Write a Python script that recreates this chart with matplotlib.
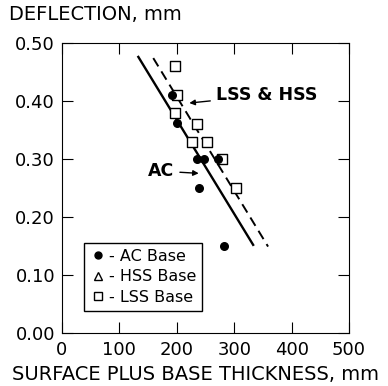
import matplotlib.pyplot as plt
from matplotlib.lines import Line2D

# data
ac_x = [191, 200, 235, 247, 272, 238, 283]
ac_y = [0.41, 0.362, 0.30, 0.30, 0.30, 0.25, 0.15]
hss_x = []
hss_y = []
lss_x = [196, 201, 196, 236, 226, 252, 278, 303]
lss_y = [0.46, 0.41, 0.38, 0.36, 0.33, 0.33, 0.30, 0.25]

ac_line_x = [133, 333]
ac_line_y = [0.476, 0.152]
lss_line_x = [159, 359]
lss_line_y = [0.474, 0.149]

x_ticks = [0, 100, 200, 300, 400, 500]
y_ticks = [0.0, 0.1, 0.2, 0.3, 0.4, 0.5]

plt.rcParams['font.family'] = ['DejaVu Sans']
fig = plt.figure(figsize=(3.88, 3.86), dpi=100)
ax = fig.add_axes([62 / 388, 1 - 333 / 386, 287 / 388, 290 / 386])

ax.plot(ac_line_x, ac_line_y, color='black', lw=1.7)
ax.plot(lss_line_x, lss_line_y, color='black', lw=1.4, ls=(0, (5, 3)))
ax.scatter(lss_x, lss_y, marker='s', s=48, facecolor='white', edgecolor='black', lw=1.0, zorder=3)
ax.scatter(hss_x, hss_y, marker='^', s=48, facecolor='white', edgecolor='black', lw=1.0, zorder=3)
ax.scatter(ac_x, ac_y, marker='o', s=30, color='black', zorder=4)

ax.annotate('LSS & HSS', xy=(217, 0.396), xytext=(268, 0.41), fontsize=12.5, fontweight='bold',
            va='center', arrowprops=dict(arrowstyle='-|>', color='black', lw=1, mutation_scale=8))
ax.annotate('AC', xy=(243, 0.275), xytext=(150, 0.279), fontsize=12.5, fontweight='bold',
            va='center', arrowprops=dict(arrowstyle='-|>', color='black', lw=1, mutation_scale=8,
                                         shrinkA=2))

ax.set_xlim(0, 500)
ax.set_ylim(0, 0.5)
ax.set_xticks(x_ticks)
ax.set_yticks(y_ticks)
ax.set_yticklabels([f'{v:.2f}' for v in y_ticks])
ax.tick_params(direction='in', top=True, right=True, length=8, labelsize=13)
ax.tick_params(axis='x', pad=6)
ax.tick_params(axis='y', pad=5)
fig.text(195 / 388, 1 - 375 / 386, 'SURFACE PLUS BASE THICKNESS, mm', fontsize=14,
         va='center', ha='center')
fig.text(9 / 388, 1 - 15 / 386, 'DEFLECTION, mm', fontsize=14, va='center', ha='left')

handles = [
    Line2D([], [], marker='o', ls='', color='black', markersize=5),
    Line2D([], [], marker='^', ls='', markerfacecolor='white', markeredgecolor='black', markersize=6),
    Line2D([], [], marker='s', ls='', markerfacecolor='white', markeredgecolor='black', markersize=6),
]
ax.legend(handles, ['- AC Base', '- HSS Base', '- LSS Base'], loc='lower left',
          bbox_to_anchor=(0.05, 0.05), fontsize=11.5, fancybox=False, edgecolor='black',
          handletextpad=0.2, handlelength=1.0, borderpad=0.35, labelspacing=0.35, framealpha=1)

fig.savefig('out.png', dpi=100)
